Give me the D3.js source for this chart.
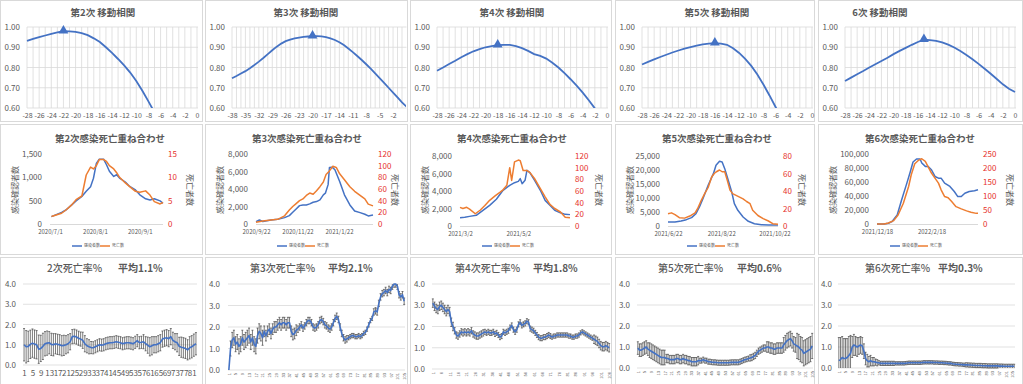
<!DOCTYPE html>
<html>
<head>
<meta charset="utf-8">
<script src="https://cdn.jsdelivr.net/npm/d3@7"></script>
<style>
body { margin: 0; background: #fff; }
text { font-family: "Noto Sans CJK JP", "Noto Sans", sans-serif; fill: #595959; }
</style>
</head>
<body>
<div id="chart"></div>
<script>
var W = 1023, H = 384;
var blue = "#4472c4", orange = "#ed7d31", grid = "#d9d9d9", txt = "#595959", red = "#e6322b";

// ---------- row 1 : moving correlation ----------
var corrTitles = ["第2次 移動相関", "第3次 移動相関", "第4次 移動相関", "第5次 移動相関", "6次 移動相関"];
var lag2 = [-28,-27,-26,-25,-24,-23,-22,-21,-20,-19,-18,-17,-16,-15,-14,-13,-12,-11,-10,-9,-8,-7];
var corr2 = [0.931,0.941,0.950,0.958,0.966,0.973,0.979,0.978,0.976,0.970,0.960,0.944,0.926,0.900,0.872,0.842,0.810,0.775,0.733,0.685,0.633,0.578];
var lag3 = [-38,-37,-36,-35,-34,-33,-32,-31,-30,-29,-28,-27,-26,-25,-24,-23,-22,-21,-20,-19,-18,-17,-16,-15,-14,-13,-12,-11,-10,-9,-8,-7,-6,-5,-4,-3,-2,-1,0,1];
var corr3 = [0.747,0.758,0.770,0.782,0.796,0.812,0.829,0.847,0.866,0.885,0.903,0.918,0.930,0.938,0.944,0.948,0.951,0.953,0.955,0.955,
             0.954,0.950,0.944,0.936,0.925,0.911,0.894,0.876,0.857,0.837,0.816,0.794,0.771,0.748,0.724,0.700,0.676,0.652,0.628,0.607];
var lag4 = [-28,-27,-26,-25,-24,-23,-22,-21,-20,-19,-18,-17,-16,-15,-14,-13,-12,-11,-10,-9,-8,-7,-6,-5,-4,-3,-2];
var corr4 = [0.784,0.800,0.817,0.833,0.851,0.866,0.880,0.891,0.900,0.906,0.910,0.912,0.912,0.906,0.896,0.882,0.866,0.857,0.844,0.823,0.800,0.772,0.742,0.710,0.676,0.638,0.598];
var lag5 = [-28,-27,-26,-25,-24,-23,-22,-21,-20,-19,-18,-17,-16,-15,-14,-13,-12,-11,-10,-9,-8,-7,-6,-5];
var corr5 = [0.815,0.828,0.840,0.852,0.863,0.874,0.884,0.893,0.901,0.908,0.914,0.918,0.920,0.918,0.912,0.895,0.872,0.843,0.808,0.765,0.716,0.662,0.605,0.550];
var lag6 = [-28,-27,-26,-25,-24,-23,-22,-21,-20,-19,-18,-17,-16,-15,-14,-13,-12,-11,-10,-9,-8,-7,-6,-5,-4,-3,-2,-1,0];
var corr6 = [0.733,0.750,0.767,0.783,0.800,0.816,0.832,0.848,0.866,0.882,0.897,0.912,0.926,0.937,0.935,0.931,0.924,0.913,0.899,0.882,0.862,0.841,0.818,0.794,0.769,0.743,0.717,0.695,0.679];
var corrPeak = [-22, -20, -18, -16, -15];
var ticks28 = [-28,-26,-24,-22,-20,-18,-16,-14,-12,-10,-8,-6,-4,-2,0];
var ticks38 = [-38,-35,-32,-29,-26,-23,-20,-17,-14,-11,-8,-5,-2];
var corrTicksY = [0.6, 0.7, 0.8, 0.9, 1.0];

// ---------- row 2 : infections vs deaths ----------
var ovTitles = ["第2次感染死亡重ね合わせ", "第3次感染死亡重ね合わせ", "第4次感染死亡重ね合わせ", "第5次感染死亡重ね合わせ", "第6次感染死亡重ね合わせ"];
var ovStart = ["2020-07-01", "2020-09-22", "2021-03-02", "2021-06-22", "2021-12-18"];
var ovTicks = [["2020-07-01","2020-08-01","2020-09-01"], ["2020-09-22","2020-11-22","2021-01-22"],
               ["2021-03-02","2021-05-02"], ["2021-06-22","2021-08-22","2021-10-22"], ["2021-12-18","2022-02-18"]];
var leftMax = [1500, 8000, 8000, 25000, 100000], leftStep = [500, 2000, 2000, 5000, 20000];
var rightMax = [15, 120, 120, 80, 250], rightStep = [5, 20, 20, 20, 50];

var infDays2 = [1,8,11,15,18,22,25,28,30,32,34,37,39,41,44,46,48,52,55,59,62,66,69,72,76,78];
var inf2 = [158,250,300,410,495,590,700,800,980,1300,1390,1390,1270,1130,1020,1055,985,900,805,730,625,540,515,540,495,445];
var dthDays2 = [1,8,11,15,18,22,25,28,30,32,34,37,39,41,44,46,48,52,55,59,62,66,69,72,76,78];
var dth2 = [1.6,2.3,3.0,4.1,5.2,6.0,10.5,12.2,11.8,12.5,13.8,13.8,13.4,12.5,11.8,11.0,10.0,8.8,8.0,7.0,6.8,7.1,6.2,4.8,4.3,4.6];

var infDays3 = [0,5,10,22,32,42,49,54,59,64,69,74,79,84,89,94,99,102,106,108,112,116,123,130,138,145,153,160,165,172];
var inf3 = [270,460,290,460,535,730,960,1340,1720,2100,2180,2180,2300,2490,2560,2760,3330,3520,4500,6470,6500,6200,4860,3330,2180,1490,1300,1110,920,1030];
var dthDays3 = [0,10,22,32,42,49,54,59,64,69,74,79,84,89,94,99,103,108,113,118,123,130,138,145,153,160,165,172];
var dth3 = [3,5,7,8,14,24,30,35,40,43,49,53,51,57,64,72,85,91,99,97,86,76,64,56,49,43,34,31];

var infDays4 = [0,5,10,17,24,31,38,45,52,57,61,63,65,68,70,73,78,84,89,94,99,105,110,115];
var inf4 = [950,990,1100,1220,1790,2360,3050,4080,4650,4950,5100,5410,4840,5220,6360,6100,5220,4080,2930,2360,1790,1520,1330,1300];
var dthDays4 = [0,3,7,10,16,21,26,31,37,42,45,49,52,54,57,61,63,66,70,73,78,84,89,94,99,105,110,115];
var dth4 = [32,30,32,29,21,27,35,44,52,58,62,70,100,78,110,113,112,95,95,92,81,64,50,37,30,24,15,14];

var infDays5 = [0,8,15,21,27,32,36,40,46,52,55,59,62,65,69,73,76,80,86,92,99,107,115,126];
var inf5 = [1430,1430,1790,2260,2980,4400,6790,9760,14520,18690,21670,23100,22860,20480,16310,12140,7980,5600,3210,1670,830,480,360,360];
var dthDays5 = [0,4,8,13,19,25,31,34,38,42,46,50,53,55,59,62,65,68,71,74,78,82,86,90,94,97,103,109,115,120,126];
var dth5 = [14,15,13,9.5,9,11.4,15,20,29,37,44,56,60,61.7,64,62,62,52,41,37,35,33,31,28,25.5,18,12,8.4,5.7,2.7,2];

var infDays6 = [0,8,13,17,23,28,34,38,41,45,49,51,55,58,62,66,70,73,77,83,88,92,96,100,105,111,115];
var inf6 = [0,0,1000,3300,12900,34400,58400,75100,88500,92800,92800,87100,82300,82300,77500,67900,65500,65500,58400,53600,46400,39200,39200,44000,46400,47400,48800];
var dthDays6 = [0,8,13,19,24,30,36,39,43,47,51,55,58,62,66,70,73,77,81,85,90,96,102,107,113,115];
var dth6 = [0,0,3.6,12,32,74,134,176,215,227,233,224,206,182,164,146,122,98,94,80,62,54,47,42,38,38];

// ---------- row 3 : fatality rate with error bars ----------
var rateTitles = ["2次死亡率%", "第3次死亡率%", "第4次死亡率%", "第5次死亡率%", "第6次死亡率%"];
var rateMeans = ["平均1.1%", "平均2.1%", "平均1.8%", "平均0.6%", "平均0.3%"];
var rateTicksY = [0, 1, 2, 3, 4];
var rate2 = [1.00,0.90,0.92,1.02,1.08,1.03,1.00,0.78,0.82,0.92,1.05,1.08,1.10,1.02,1.00,1.05,1.02,1.00,0.95,0.97,
             1.00,1.05,1.15,1.40,1.42,1.38,1.32,1.28,1.22,1.05,0.95,0.90,0.86,0.85,0.90,0.95,1.00,0.98,1.00,1.05,
             1.08,1.10,1.10,1.12,1.15,1.12,1.10,1.05,1.08,1.10,1.10,1.08,1.05,1.12,1.20,1.10,1.12,1.15,1.05,0.98,
             0.90,0.95,1.00,1.00,1.05,1.10,1.28,1.32,1.35,1.30,1.40,1.22,1.15,1.10,0.92,0.88,0.85,0.82,0.75,0.85,
             0.90,0.98,1.05];
var err2 = [0.8,0.8,0.75,0.7,0.7,0.7,0.7,0.7,0.65,0.65,0.6,0.6,0.55,0.55,0.55,0.5,0.5,0.5,0.5,0.5,
            0.45,0.45,0.4,0.35,0.35,0.35,0.35,0.35,0.4,0.4,0.35,0.35,0.3,0.3,0.3,0.3,0.3,0.3,0.3,0.3,
            0.3,0.3,0.3,0.3,0.3,0.3,0.3,0.3,0.3,0.3,0.3,0.3,0.3,0.3,0.3,0.3,0.3,0.35,0.35,0.4,
            0.45,0.45,0.4,0.4,0.4,0.4,0.4,0.4,0.4,0.4,0.4,0.4,0.4,0.45,0.45,0.5,0.5,0.5,0.5,0.55,
            0.55,0.55,0.55];
var rate3 = [0.0,1.0,1.4,1.5,1.2,1.3,1.1,1.2,1.5,1.3,1.4,1.5,1.6,1.3,1.5,1.2,1.1,1.6,1.8,1.7,
             1.5,1.8,1.6,1.8,1.9,1.7,1.9,2.0,2.0,2.1,2.2,2.1,2.2,2.2,2.1,2.2,2.2,1.8,1.65,1.7,
             1.85,1.9,2.0,2.1,1.95,2.05,2.2,2.3,2.3,2.2,2.0,1.95,2.0,2.1,2.3,2.35,2.25,2.1,2.05,1.95,
             1.9,2.0,2.2,2.4,2.5,2.35,2.0,1.7,1.5,1.4,1.45,1.5,1.55,1.6,1.6,1.55,1.55,1.6,1.55,1.6,
             1.7,1.75,1.9,2.1,2.3,2.4,2.7,2.75,2.7,3.1,3.4,3.55,3.6,3.7,3.6,3.75,3.7,3.9,4.0,4.0,
             3.9,3.5,3.4,3.5,3.2];
var err3 = [0,0.35,0.35,0.35,0.35,0.35,0.35,0.35,0.35,0.35,0.35,0.35,0.35,0.35,0.35,0.35,0.35,0.35,0.35,0.35,
            0.35,0.25,0.25,0.25,0.25,0.25,0.25,0.25,0.25,0.25,0.25,0.25,0.25,0.25,0.25,0.25,0.25,0.25,0.25,0.25,
            0.25,0.15,0.15,0.15,0.15,0.15,0.15,0.15,0.15,0.15,0.15,0.15,0.15,0.15,0.15,0.15,0.15,0.15,0.15,0.15,
            0.15,0.15,0.15,0.15,0.15,0.15,0.15,0.15,0.15,0.15,0.15,0.1,0.1,0.1,0.1,0.1,0.1,0.1,0.1,0.1,
            0.1,0.1,0.1,0.1,0.1,0.1,0.15,0.15,0.15,0.15,0.15,0.15,0.15,0.15,0.15,0.15,0.15,0.15,0.15,0.15,
            0.15,0.15,0.15,0.15,0.15];
var rate4 = [3.1,2.95,2.85,2.8,2.95,3.0,2.9,2.8,2.7,2.8,2.7,2.2,2.0,1.8,1.6,1.55,1.65,1.75,1.7,1.75,
             1.7,1.75,1.7,1.8,1.65,1.6,1.55,1.55,1.6,1.65,1.7,1.75,1.7,1.75,1.7,1.7,1.75,1.65,1.7,1.6,
             1.5,1.55,1.75,1.7,1.75,1.8,1.95,2.05,1.85,1.75,1.85,2.1,2.2,2.05,2.1,2.15,2.25,2.2,1.9,1.85,
             1.8,1.7,1.6,1.5,1.45,1.45,1.5,1.5,1.55,1.6,1.55,1.5,1.55,1.55,1.6,1.6,1.6,1.6,1.6,1.6,
             1.6,1.55,1.55,1.5,1.5,1.55,1.55,1.6,1.7,1.75,1.7,1.65,1.6,1.55,1.5,1.45,1.4,1.35,1.3,1.2,
             1.1,1.05,1.05,1.1,1.05,1.0];
var err4 = [0.2,0.2,0.2,0.2,0.2,0.2,0.2,0.2,0.2,0.2,0.2,0.2,0.2,0.15,0.15,0.15,0.15,0.15,0.15,0.15,
            0.15,0.15,0.15,0.15,0.15,0.15,0.15,0.15,0.15,0.15,0.15,0.12,0.12,0.12,0.12,0.12,0.12,0.12,0.12,0.12,
            0.12,0.12,0.12,0.12,0.12,0.12,0.12,0.12,0.12,0.12,0.12,0.12,0.12,0.12,0.12,0.12,0.12,0.12,0.12,0.12,
            0.12,0.12,0.12,0.12,0.12,0.12,0.12,0.12,0.12,0.12,0.12,0.1,0.1,0.1,0.1,0.1,0.1,0.1,0.1,0.1,
            0.1,0.1,0.1,0.1,0.1,0.1,0.1,0.1,0.1,0.1,0.1,0.1,0.1,0.1,0.1,0.1,0.2,0.2,0.2,0.2,
            0.2,0.2,0.2,0.2,0.2,0.2];
var rate5 = [0.95,0.85,0.85,0.9,0.95,1.0,0.9,0.85,0.8,0.75,0.7,0.65,0.6,0.55,0.5,0.5,0.5,0.45,0.45,0.4,
             0.4,0.4,0.4,0.45,0.45,0.4,0.4,0.45,0.4,0.4,0.35,0.35,0.3,0.3,0.3,0.3,0.35,0.35,0.35,0.4,
             0.35,0.35,0.3,0.3,0.28,0.27,0.27,0.26,0.25,0.25,0.25,0.25,0.25,0.25,0.25,0.26,0.27,0.27,0.27,0.27,
             0.27,0.3,0.33,0.37,0.4,0.42,0.45,0.48,0.5,0.55,0.6,0.7,0.8,0.85,0.9,0.95,0.95,1.0,1.0,0.95,
             0.95,0.9,0.9,0.95,0.95,0.95,0.95,1.1,1.2,1.3,1.35,1.4,1.3,1.15,1.1,1.05,1.0,0.9,0.85,0.7,
             0.75,0.8,0.85,0.9,1.05];
var err5 = [0.3,0.3,0.3,0.3,0.3,0.3,0.3,0.35,0.35,0.35,0.35,0.35,0.35,0.35,0.35,0.35,0.35,0.2,0.2,0.2,
            0.2,0.2,0.2,0.2,0.2,0.2,0.2,0.2,0.2,0.2,0.2,0.2,0.2,0.2,0.2,0.2,0.2,0.12,0.12,0.12,
            0.12,0.12,0.12,0.12,0.12,0.12,0.12,0.12,0.12,0.12,0.12,0.12,0.12,0.12,0.12,0.12,0.12,0.12,0.12,0.12,
            0.12,0.12,0.12,0.12,0.12,0.12,0.12,0.15,0.15,0.15,0.15,0.15,0.15,0.15,0.15,0.15,0.15,0.25,0.25,0.25,
            0.25,0.25,0.25,0.25,0.25,0.25,0.25,0.35,0.35,0.35,0.35,0.35,0.35,0.35,0.35,0.6,0.6,0.6,0.6,0.6,
            0.6,0.6,0.6,0.6,0.6];
var rate6 = [0.35,0.4,0.5,0.45,0.45,0.5,0.6,0.7,1.0,1.1,1.05,1.0,1.05,1.1,1.05,0.8,0.45,0.35,0.3,0.35,
             0.3,0.3,0.28,0.25,0.25,0.22,0.22,0.22,0.22,0.22,0.22,0.22,0.22,0.22,0.22,0.22,0.22,0.22,0.22,0.22,
             0.23,0.24,0.25,0.25,0.25,0.25,0.25,0.25,0.25,0.25,0.26,0.27,0.27,0.27,0.27,0.27,0.27,0.26,0.26,0.26,
             0.25,0.25,0.25,0.24,0.24,0.23,0.22,0.22,0.2,0.19,0.18,0.18,0.17,0.17,0.16,0.15,0.15,0.15,0.14,0.14,
             0.13,0.13,0.12,0.12,0.12,0.12,0.11,0.11,0.11,0.1,0.1,0.1,0.1,0.1,0.1,0.1,0.09,0.09,0.09,0.08,
             0.08,0.08,0.08,0.08,0.08,0.08];
var err6 = [1.1,1.05,1.0,0.95,0.95,0.9,0.9,0.85,0.5,0.5,0.45,0.45,0.4,0.4,0.4,0.35,0.3,0.3,0.25,0.25,
            0.2,0.2,0.15,0.15,0.1,0.1,0.1,0.1,0.1,0.1,0.1,0.1,0.1,0.1,0.08,0.08,0.08,0.08,0.08,0.08,
            0.08,0.08,0.08,0.08,0.08,0.08,0.08,0.08,0.08,0.08,0.08,0.08,0.08,0.08,0.08,0.08,0.08,0.08,0.08,0.08,
            0.08,0.08,0.08,0.08,0.08,0.08,0.08,0.08,0.08,0.08,0.08,0.08,0.08,0.08,0.08,0.08,0.1,0.1,0.1,0.1,
            0.1,0.1,0.1,0.1,0.1,0.1,0.1,0.1,0.1,0.1,0.1,0.1,0.1,0.1,0.1,0.1,0.1,0.1,0.1,0.1,
            0.1,0.1,0.1,0.1,0.1,0.1];

// ---------- layout ----------
var colX = [0, 205, 410, 615, 818], colW = [203, 203, 202, 200, 205];
var rowY = [0, 124, 257], rowH = [122, 131, 130];

var svg = d3.select("#chart").append("svg")
    .attr("width", W).attr("height", H)
    .style("display", "block");

svg.append("rect").attr("width", W).attr("height", H).attr("fill", "#fff");

for (var r = 0; r < 3; r++) {
    for (var c = 0; c < 5; c++) {
        svg.append("rect")
            .attr("x", colX[c] + 0.5).attr("y", rowY[r] + 0.5)
            .attr("width", colW[c] - 1).attr("height", rowH[r] - 1)
            .attr("fill", "#fff").attr("stroke", grid).attr("stroke-width", 1);
    }
}

function styleAxis(ax, size, color) {
    ax.select(".domain").remove();
    ax.attr("font-family", null).attr("font-size", null);
    ax.selectAll("text").style("font-size", size + "px").style("fill", color || txt);
}

// ---------- row 1 ----------
function corrPanel(c, lags, vals, peak, ticks, lo, titleX) {
    var px = colX[c];
    var x = d3.scaleLinear().domain([lo, 0]).range([px + 27, px + 197]);
    var y = d3.scaleLinear().domain([0.6, 1.0]).range([108, 27]);
    var g = svg.append("g");
    var right = lo == -38 ? x(1) : x(0) + 1;

    g.selectAll("line.vg").data(d3.range(lo, 1)).enter().append("line")
        .attr("x1", x).attr("x2", x).attr("y1", y(1)).attr("y2", y(0.6))
        .attr("stroke", grid).attr("stroke-width", 0.8);
    g.selectAll("line.hg").data(corrTicksY).enter().append("line")
        .attr("x1", x(lo)).attr("x2", right).attr("y1", y).attr("y2", y)
        .attr("stroke", grid).attr("stroke-width", 0.8);

    var clipId = "clip1_" + c;
    g.append("clipPath").attr("id", clipId).append("rect")
        .attr("x", px + 2).attr("y", 20).attr("width", colW[c] - 4).attr("height", 88);

    var pts = lags.map(function (d, i) { return [d, vals[i]]; });
    g.append("path").datum(pts)
        .attr("clip-path", "url(#" + clipId + ")")
        .attr("fill", "none").attr("stroke", blue).attr("stroke-width", 1.8)
        .attr("d", d3.line().x(function (d) { return x(d[0]); }).y(function (d) { return y(d[1]); }));

    var pv = vals[lags.indexOf(peak)];
    g.append("path")
        .attr("d", d3.symbol().type(d3.symbolTriangle).size(42))
        .attr("transform", "translate(" + x(peak) + "," + (y(pv) - 0.5) + ")")
        .attr("fill", blue);

    var ay = g.append("g").attr("transform", "translate(" + (px + 23) + ",0)")
        .call(d3.axisLeft(y).tickValues(corrTicksY).tickFormat(d3.format(".2f")).tickSize(0).tickPadding(3));
    styleAxis(ay, 8);

    var ax = g.append("g").attr("transform", "translate(0,108)")
        .call(d3.axisBottom(x).tickValues(ticks).tickFormat(function (d) { return String(d); }).tickSize(0).tickPadding(5));
    styleAxis(ax, 7);

    g.append("text").attr("x", titleX).attr("y", 16)
        .attr("text-anchor", "middle").style("font-size", "9.5px").style("font-weight", "bold")
        .text(corrTitles[c]);
}

corrPanel(0, lag2, corr2, corrPeak[0], ticks28, -28, 103);
corrPanel(1, lag3, corr3, corrPeak[1], ticks38, -38, 306);
corrPanel(2, lag4, corr4, corrPeak[2], ticks28, -28, 512);
corrPanel(3, lag5, corr5, corrPeak[3], ticks28, -28, 717);
corrPanel(4, lag6, corr6, corrPeak[4], ticks28, -28, 880);

// ---------- row 2 ----------
var parseDay = d3.timeParse("%Y-%m-%d");
var ovGeo = [
    { L: 50, R: 163, top: 154, bot: 224, tx: 110 },
    { L: 256, R: 373, top: 154, bot: 224, tx: 307 },
    { L: 460, R: 570, top: 156, bot: 226, tx: 512 },
    { L: 668, R: 778, top: 156, bot: 226, tx: 717 },
    { L: 877, R: 978, top: 154, bot: 224, tx: 920 }
];

function overlayPanel(c, dInf, vInf, dDth, vDth) {
    var px = colX[c], geo = ovGeo[c];
    var start = parseDay(ovStart[c]);
    var endDay = Math.max(d3.max(dInf), d3.max(dDth));
    var x = d3.scaleTime().domain([start, d3.timeDay.offset(start, endDay)]).range([geo.L, geo.R]);
    var yl = d3.scaleLinear().domain([0, leftMax[c]]).range([geo.bot, geo.top]);
    var yr = d3.scaleLinear().domain([0, rightMax[c]]).range([geo.bot, geo.top]);
    var g = svg.append("g");

    g.append("line").attr("x1", geo.L).attr("x2", geo.R).attr("y1", geo.bot + 0.5).attr("y2", geo.bot + 0.5)
        .attr("stroke", grid).attr("stroke-width", 1);

    var lineL = d3.line().x(function (d) { return x(d3.timeDay.offset(start, d[0])); }).y(function (d) { return yl(d[1]); });
    var lineR = d3.line().x(function (d) { return x(d3.timeDay.offset(start, d[0])); }).y(function (d) { return yr(d[1]); });

    g.append("path").datum(dInf.map(function (d, i) { return [d, vInf[i]]; }))
        .attr("fill", "none").attr("stroke", blue).attr("stroke-width", 1.5).attr("stroke-linejoin", "round")
        .attr("d", lineL);
    g.append("path").datum(dDth.map(function (d, i) { return [d, vDth[i]]; }))
        .attr("fill", "none").attr("stroke", orange).attr("stroke-width", 1.5).attr("stroke-linejoin", "round")
        .attr("d", lineR);

    var al = g.append("g").attr("transform", "translate(" + geo.L + ",0)")
        .call(d3.axisLeft(yl).tickValues(d3.range(0, leftMax[c] + 1, leftStep[c])).tickFormat(d3.format(",")).tickSize(0).tickPadding(8));
    styleAxis(al, 8);

    var ar = g.append("g").attr("transform", "translate(" + geo.R + ",0)")
        .call(d3.axisRight(yr).tickValues(d3.range(0, rightMax[c] + 1, rightStep[c])).tickSize(0).tickPadding(5));
    styleAxis(ar, 8, red);

    var ab = g.append("g").attr("transform", "translate(0," + geo.bot + ")")
        .call(d3.axisBottom(x).tickValues(ovTicks[c].map(parseDay)).tickFormat(d3.timeFormat("%Y/%-m/%-d")).tickSize(0).tickPadding(6));
    styleAxis(ab, 6);

    g.append("text").attr("x", geo.tx).attr("y", 142)
        .attr("text-anchor", "middle").style("font-size", "9.5px").style("font-weight", "bold")
        .text(ovTitles[c]);

    g.append("text").attr("transform", "translate(" + (px + 15) + ",190) rotate(-90)")
        .attr("text-anchor", "middle").attr("dy", "0.35em").style("font-size", "8px")
        .text("感染確認者数");
    g.append("text").attr("transform", "translate(" + (px + colW[c] - 13) + ",190) rotate(90)")
        .attr("text-anchor", "middle").attr("dy", "0.35em").style("font-size", "8px")
        .text("死亡者数");

    var lg = g.append("g").attr("transform", "translate(" + (px + 72) + ",246)");
    lg.append("line").attr("x1", 0).attr("x2", 10).attr("stroke", blue).attr("stroke-width", 1.5);
    lg.append("text").attr("x", 12).attr("dy", "0.35em").style("font-size", "4px").text("感染者数");
    lg.append("line").attr("x1", 28).attr("x2", 38).attr("stroke", orange).attr("stroke-width", 1.5);
    lg.append("text").attr("x", 40).attr("dy", "0.35em").style("font-size", "4px").text("死亡数");
}

overlayPanel(0, infDays2, inf2, dthDays2, dth2);
overlayPanel(1, infDays3, inf3, dthDays3, dth3);
overlayPanel(2, infDays4, inf4, dthDays4, dth4);
overlayPanel(3, infDays5, inf5, dthDays5, dth5);
overlayPanel(4, infDays6, inf6, dthDays6, dth6);

// ---------- row 3 ----------
var rateGeo = [
    { L: 23, R: 197, bot: 365, yl: 16, t1: 47, t2: 118, step: 4, rot: false },
    { L: 228, R: 405, bot: 370, yl: 220, t1: 250, t2: 328, step: 4, rot: true },
    { L: 432, R: 610, bot: 369, yl: 425, t1: 455, t2: 533, step: 5, rot: true },
    { L: 637, R: 813, bot: 368, yl: 630, t1: 658, t2: 737, step: 4, rot: true },
    { L: 838, R: 1015, bot: 368, yl: 832, t1: 865, t2: 938, step: 4, rot: true }
];

function ratePanel(c, vals, errs) {
    var geo = rateGeo[c];
    var idx = d3.range(vals.length);
    var x = d3.scalePoint().domain(idx).range([geo.L, geo.R]).padding(0.5);
    var y = d3.scaleLinear().domain([0, 4]).range([geo.bot, 284]);
    var g = svg.append("g");

    g.selectAll("line.hg").data(rateTicksY).enter().append("line")
        .attr("x1", geo.L).attr("x2", geo.R).attr("y1", y).attr("y2", y)
        .attr("stroke", grid).attr("stroke-width", 0.8);

    var eb = g.append("g").attr("stroke", "#444").attr("stroke-width", 0.7);
    idx.forEach(function (i) {
        if (!errs[i]) return;
        var lo = Math.max(0, vals[i] - errs[i]), hi = Math.min(4, vals[i] + errs[i]);
        var xi = x(i);
        eb.append("line").attr("x1", xi).attr("x2", xi).attr("y1", y(lo)).attr("y2", y(hi));
        if (vals[i] + errs[i] <= 4) eb.append("line").attr("x1", xi - 1).attr("x2", xi + 1).attr("y1", y(hi)).attr("y2", y(hi));
        if (vals[i] - errs[i] >= 0) eb.append("line").attr("x1", xi - 1).attr("x2", xi + 1).attr("y1", y(lo)).attr("y2", y(lo));
    });

    g.append("path").datum(idx)
        .attr("fill", "none").attr("stroke", blue).attr("stroke-width", 1.6).attr("stroke-linejoin", "round")
        .attr("d", d3.line().x(function (i) { return x(i); }).y(function (i) { return y(vals[i]); }));

    var ay = g.append("g").attr("transform", "translate(" + (geo.yl + 3) + ",0)")
        .call(d3.axisLeft(y).tickValues(rateTicksY).tickFormat(d3.format(".1f")).tickSize(0).tickPadding(3));
    styleAxis(ay, 8);

    var tv = idx.filter(function (i) { return i % geo.step == 0; });
    var ax = g.append("g").attr("transform", "translate(0," + geo.bot + ")")
        .call(d3.axisBottom(x).tickValues(tv).tickFormat(function (i) { return String(i + 1); }).tickSize(0).tickPadding(5));
    styleAxis(ax, geo.rot ? 4 : 8);
    if (geo.rot) {
        ax.selectAll("text")
            .attr("y", 0).attr("x", -3).attr("dy", "0.35em")
            .attr("transform", "rotate(-90)")
            .style("text-anchor", "end");
    }

    g.append("text").attr("x", geo.t1).attr("y", 272).style("font-size", "10px").style("font-weight", "500").text(rateTitles[c]);
    g.append("text").attr("x", geo.t2).attr("y", 272).style("font-size", "10px").style("font-weight", "bold").text(rateMeans[c]);
}

ratePanel(0, rate2, err2);
ratePanel(1, rate3, err3);
ratePanel(2, rate4, err4);
ratePanel(3, rate5, err5);
ratePanel(4, rate6, err6);
</script>
</body>
</html>
